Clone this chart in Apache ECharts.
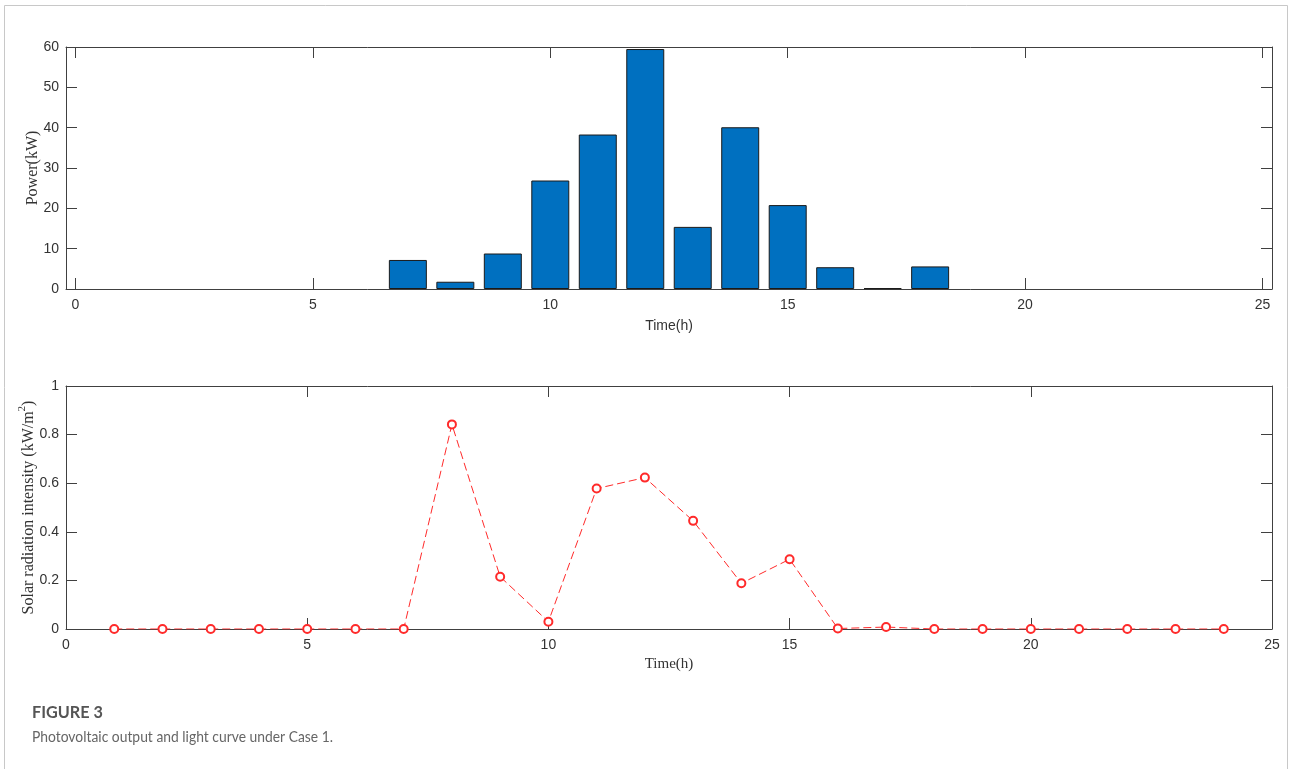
<!DOCTYPE html>
<html>
<head>
<meta charset="utf-8">
<script src="https://cdn.jsdelivr.net/npm/echarts@6/dist/echarts.min.js"></script>
<style>
html,body{margin:0;padding:0;background:#fff;}
#main{width:1290px;height:769px;}
</style>
</head>
<body>
<div id="main"></div>
<script>
// ---- data ----
const hours = [1,2,3,4,5,6,7,8,9,10,11,12,13,14,15,16,17,18,19,20,21,22,23,24];
const pvPower = [0,0,0,0,0,0,7.2,1.8,8.8,26.9,38.3,59.5,15.4,40.1,20.8,5.4,0.2,5.6,0,0,0,0,0,0];
const solarIntensity = [0,0,0,0,0,0,0,0.842,0.215,0.03,0.578,0.623,0.445,0.188,0.287,0.002,0.008,0,0,0,0,0,0,0];
const timeTicks = [0,5,10,15,20,25];
const captionTitle = 'FIGURE 3';
const captionText = 'Photovoltaic output and light curve under Case 1.';

const axisColor = '#404040';
const labelStyle = {color:'#333', fontFamily:'Liberation Sans, Arial, sans-serif', fontSize:14};

function mirrorAxis(base, extra){ return Object.assign({}, base, extra); }

// fit caption text width to the reference layout
function fitScale(text, font, targetWidth){
  const ctx = document.createElement('canvas').getContext('2d');
  ctx.font = font;
  const w = ctx.measureText(text).width;
  return w > 0 ? targetWidth / w : 1;
}
const titleFont = 'bold 17px Lato, "Open Sans", sans-serif';
const textFont = '16px Lato, "Open Sans", sans-serif';

const chart = echarts.init(document.getElementById('main'));

const topXBase = {
  type:'value', gridIndex:0, min:-0.2, max:25.2,
  axisLine:{show:true, onZero:false, lineStyle:{color:axisColor, width:1}},
  axisTick:{show:true, inside:true, length:11, customValues:timeTicks, lineStyle:{color:axisColor}},
  splitLine:{show:false}
};
const topYBase = {
  type:'value', gridIndex:0, min:0, max:60, interval:10,
  axisLine:{show:true, onZero:false, lineStyle:{color:axisColor, width:1}},
  axisTick:{show:true, inside:true, length:11, lineStyle:{color:axisColor}},
  splitLine:{show:false}
};
const botXBase = {
  type:'value', gridIndex:1, min:0, max:25, interval:5,
  axisLine:{show:true, onZero:false, lineStyle:{color:axisColor, width:1}},
  axisTick:{show:true, inside:true, length:11, lineStyle:{color:axisColor}},
  splitLine:{show:false}
};
const botYBase = {
  type:'value', gridIndex:1, min:0, max:1, interval:0.2,
  axisLine:{show:true, onZero:false, lineStyle:{color:axisColor, width:1}},
  axisTick:{show:true, inside:true, length:11, lineStyle:{color:axisColor}},
  splitLine:{show:false}
};

const option = {
  backgroundColor:'#fff',
  animation:false,
  grid:[
    {left:66, top:47, width:1206, height:242},
    {left:66, top:386, width:1206, height:243}
  ],
  xAxis:[
    mirrorAxis(topXBase, {position:'bottom',
      axisLabel:Object.assign({show:true, margin:9, customValues:timeTicks}, labelStyle),
      name:'Time(h)', nameLocation:'middle', nameGap:30, nameMoveOverlap:false,
      nameTextStyle:{color:'#333', fontFamily:'Liberation Sans, Arial, sans-serif', fontSize:14}}),
    mirrorAxis(topXBase, {position:'top', axisLabel:{show:false}}),
    mirrorAxis(botXBase, {position:'bottom',
      axisLabel:Object.assign({show:true, margin:9}, labelStyle),
      name:'Time(h)', nameLocation:'middle', nameGap:28, nameMoveOverlap:false,
      nameTextStyle:{color:'#333', fontFamily:'Liberation Serif, Times New Roman, serif', fontSize:15}}),
    mirrorAxis(botXBase, {position:'top', axisLabel:{show:false}})
  ],
  yAxis:[
    mirrorAxis(topYBase, {position:'left',
      axisLabel:Object.assign({show:true, margin:7}, labelStyle),
      name:'Power(kW)', nameLocation:'middle', nameGap:25, nameMoveOverlap:false,
      nameTextStyle:{color:'#333', fontFamily:'Liberation Serif, Times New Roman, serif', fontSize:16}}),
    mirrorAxis(topYBase, {position:'right', axisLabel:{show:false}}),
    mirrorAxis(botYBase, {position:'left',
      axisLabel:Object.assign({show:true, margin:7}, labelStyle),
      name:'Solar radiation intensity (kW/m{sup|2})', nameLocation:'middle', nameGap:25, nameMoveOverlap:false,
      nameTextStyle:{color:'#333', fontFamily:'Liberation Serif, Times New Roman, serif', fontSize:16,
        rich:{sup:{fontSize:11, fontFamily:'Liberation Serif, Times New Roman, serif', color:'#333', verticalAlign:'top', lineHeight:24}}}}),
    mirrorAxis(botYBase, {position:'right', axisLabel:{show:false}})
  ],
  series:[
    {
      type:'bar', xAxisIndex:0, yAxisIndex:0,
      data: hours.map((h,i)=>[h, pvPower[i] === 0 ? '-' : pvPower[i]]),
      barWidth:'80%',
      itemStyle:{color:'#0070C0', borderColor:'#1a1a1a', borderWidth:1}
    },
    {
      type:'line', xAxisIndex:2, yAxisIndex:2,
      data: hours.map((h,i)=>[h, solarIntensity[i]]),
      symbol:'emptyCircle', symbolSize:8,
      lineStyle:{color:'#ff2a2a', width:1, type:[8,4]},
      itemStyle:{color:'#ff2a2a', borderColor:'#ff2a2a', borderWidth:1}
    }
  ],
  graphic:[
    {type:'polyline', shape:{points:[[4.5,769],[4.5,5.5],[1287.5,5.5],[1287.5,769]]}, style:{stroke:'#c8c8c8', fill:null, lineWidth:1}},
    {type:'text', x:32, y:704, scaleX:fitScale(captionTitle, titleFont, 71), style:{text:captionTitle, fill:'#555', font:titleFont}},
    {type:'text', x:32, y:729, scaleX:fitScale(captionText, textFont, 301), style:{text:captionText, fill:'#666', font:textFont}}
  ]
};
chart.setOption(option);
</script>
</body>
</html>
